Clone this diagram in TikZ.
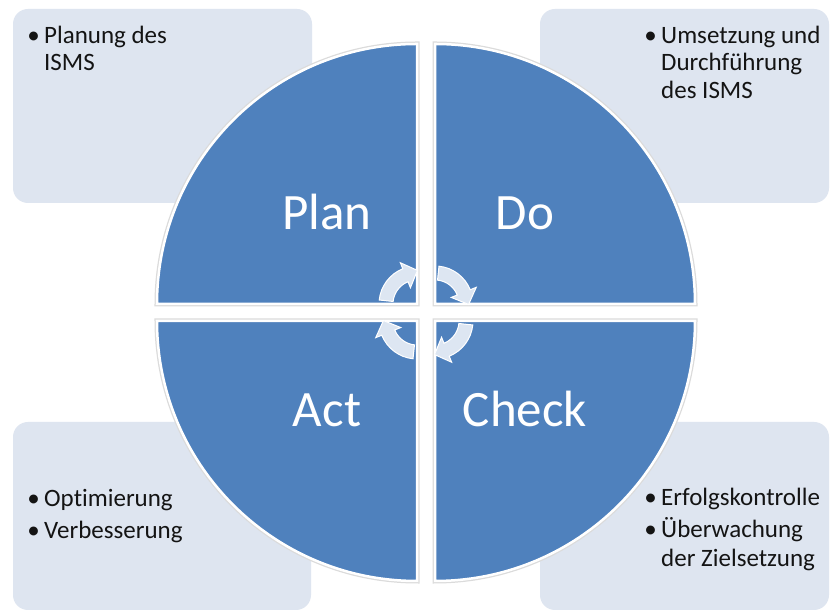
\documentclass[tikz,border=0pt]{standalone}
\usepackage{fontspec}
\setmainfont[Ligatures=NoCommon]{Carlito}
\usetikzlibrary{calc}
\definecolor{qblue}{RGB}{79,129,189}
\definecolor{boxfill}{RGB}{222,229,240}
\definecolor{arrfill}{RGB}{221,230,242}
\definecolor{txt}{RGB}{20,20,20}
\tikzset{
  infobox/.style={fill=boxfill, draw=none, rounded corners=15pt},
  quadrant/.style={fill=qblue, draw=white, line width=2.5pt},
  qshadow/.style={draw=black!14, line width=5pt},
  biglabel/.style={text=white, font=\fontsize{51}{60}\selectfont, anchor=base, inner sep=0pt},
  itemtext/.style={text=txt, font=\fontsize{25}{30}\selectfont, anchor=base west, inner sep=0pt},
  bullet/.style={text=txt, font=\fontsize{25}{30}\selectfont, anchor=base, inner sep=0pt},
  cyclearr/.style={fill=arrfill, draw=white, line width=1pt, line join=miter}
}
\newcommand\cyclearrow[3]{%
  \filldraw[cyclearr]
    ($(#1)+(#2:38)$) arc[start angle=#2, end angle=#3, radius=38]
    -- ($(#1)+(#3:44.5)$)
    -- ($(#1)+(#3:31)+({#3-90}:13)$)
    -- ($(#1)+(#3:17.5)$)
    -- ($(#1)+(#3:24)$) arc[start angle=#3, end angle=#2, radius=24]
    -- cycle;}
\begin{document}
\begin{tikzpicture}[x=1pt,y=1pt]
\useasboundingbox[fill=white] (0,0) rectangle (831,612);
% corner boxes
\fill[infobox] (13,409) rectangle (312,603);
\fill[infobox] (540,409) rectangle (829,603);
\fill[infobox] (13,2) rectangle (311,190);
\fill[infobox] (540,2) rectangle (829,190);
% quadrant corners
\coordinate (cp) at (417,308);
\coordinate (cd) at (435,308);
\coordinate (ca) at (417,291);
\coordinate (cc) at (435,291);
% shadows
\draw[qshadow] (cp) -- ++(-260,0) arc[start angle=180, end angle=90, radius=260] -- cycle;
\draw[qshadow] (cd) -- ++(0,260) arc[start angle=90, end angle=0, radius=260] -- cycle;
\draw[qshadow] (ca) -- ++(0,-260) arc[start angle=270, end angle=180, radius=260] -- cycle;
\draw[qshadow] (cc) -- ++(260,0) arc[start angle=0, end angle=-90, radius=260] -- cycle;
% quadrants
\filldraw[quadrant] (cp) -- ++(-260,0) arc[start angle=180, end angle=90, radius=260] -- cycle;
\filldraw[quadrant] (cd) -- ++(0,260) arc[start angle=90, end angle=0, radius=260] -- cycle;
\filldraw[quadrant] (ca) -- ++(0,-260) arc[start angle=270, end angle=180, radius=260] -- cycle;
\filldraw[quadrant] (cc) -- ++(260,0) arc[start angle=0, end angle=-90, radius=260] -- cycle;
% labels
\node[biglabel] (plan) at (327,382) {Plan};
\node[biglabel] (do) at (525,382) {Do};
\node[biglabel] (act) at (327,185) {Act};
\node[biglabel] (check) at (525,185) {Check};
% cycle arrows
\cyclearrow{cp}{174}{112}
\cyclearrow{cd}{84}{22}
\cyclearrow{cc}{-6}{-68}
\cyclearrow{ca}{-96}{-158}
% box texts
\node[bullet] (b1) at (33.5,568.7) {•};
\node[itemtext] (t1a) at (44,568.7) {Planung des};
\node[itemtext] (t1b) at (44,541) {ISMS};
\node[bullet] (b2) at (650.5,568.7) {•};
\node[itemtext] (t2a) at (661,568.7) {Umsetzung und};
\node[itemtext] (t2b) at (661,541) {Durchführung};
\node[itemtext] (t2c) at (661,513.7) {des ISMS};
\node[bullet] (b3) at (33.5,105.3) {•};
\node[itemtext] (t3a) at (44,105.3) {Optimierung};
\node[bullet] (b4) at (33.5,73.7) {•};
\node[itemtext] (t3b) at (44,73.7) {Verbesserung};
\node[bullet] (b5) at (650.5,106.3) {•};
\node[itemtext] (t4a) at (661,106.3) {Erfolgskontrolle};
\node[bullet] (b6) at (650.5,74) {•};
\node[itemtext] (t4b) at (661,74) {Überwachung};
\node[itemtext] (t4c) at (661,45.3) {der Zielsetzung};
\end{tikzpicture}
\end{document}
